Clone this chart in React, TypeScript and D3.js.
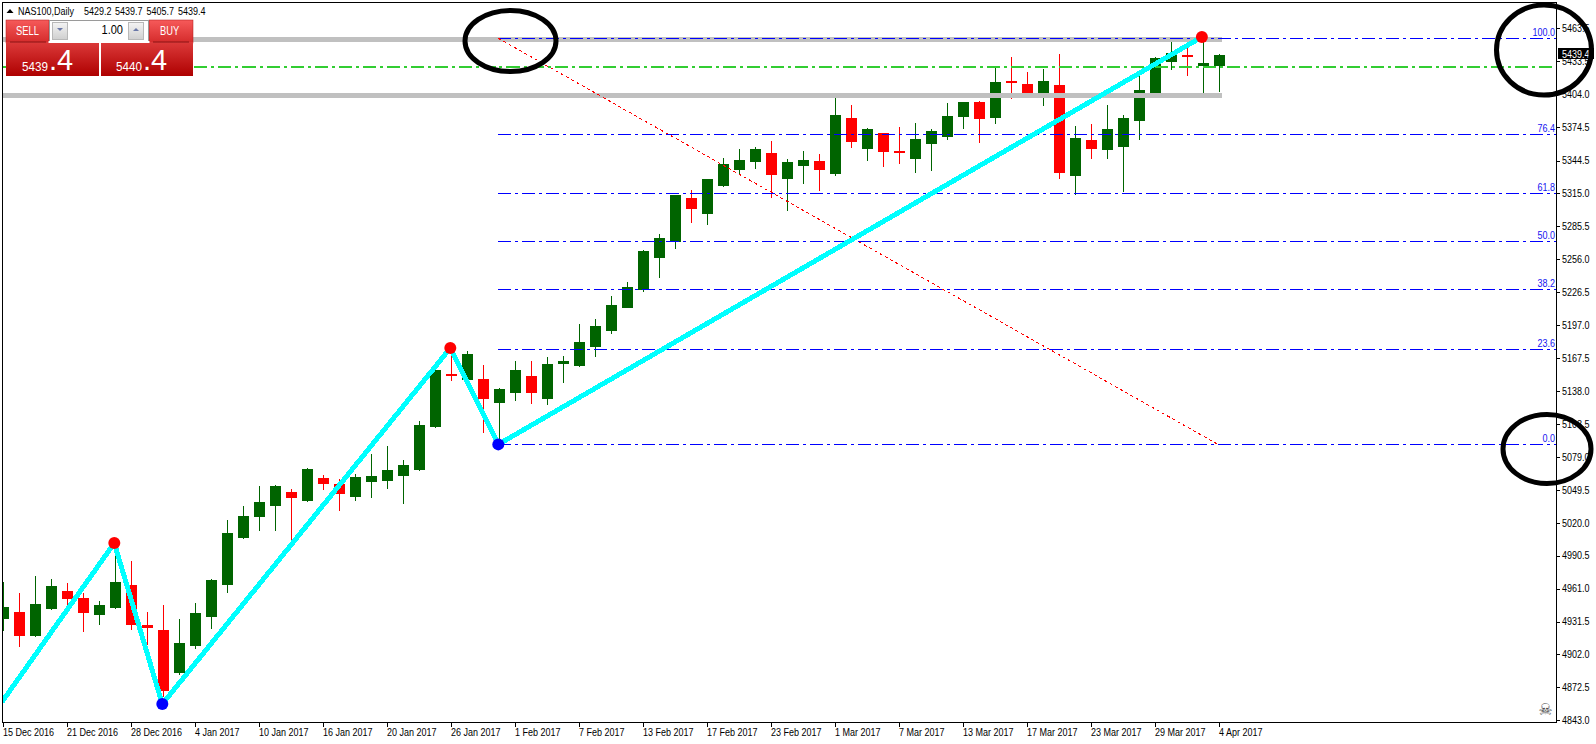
import React from "react";
import * as d3 from "d3";

const W = 1596, H = 744;

const opens = [4934.0,4940.0,4918.5,4942.7,4958.8,4952.5,4937.3,4943.6,4964.2,4928.4,4923.9,4885.4,4909.6,4935.5,4964.2,5006.3,5025.1,5035.0,5047.5,5039.5,5060.1,5054.7,5043.0,5056.5,5057.4,5061.9,5067.2,5105.7,5153.2,5147.9,5148.8,5127.3,5136.2,5151.4,5130.8,5162.2,5160.4,5177.4,5191.8,5212.4,5228.5,5257.2,5271.5,5310.9,5296.6,5321.7,5336.0,5343.2,5351.2,5327.9,5339.6,5344.1,5332.4,5382.6,5354.8,5369.1,5353.0,5345.9,5359.3,5365.6,5383.5,5396.9,5382.6,5415.7,5413.0,5405.0,5412.1,5330.6,5362.9,5353.9,5356.6,5379.9,5405.0,5432.8,5439.0,5429.2,5429.2];
const highs = [4966.9,4957.0,4972.3,4969.6,4966.0,4957.0,4949.9,5001.8,4985.7,4940.0,4946.3,4933.7,4948.1,4969.6,5022.4,5035.0,5052.9,5053.8,5050.2,5069.0,5062.7,5059.2,5063.6,5081.6,5088.7,5076.2,5111.1,5156.8,5176.5,5173.8,5161.3,5140.7,5164.9,5164.9,5168.5,5169.4,5198.0,5202.5,5223.1,5235.7,5264.3,5278.7,5313.6,5318.1,5327.9,5346.7,5354.8,5356.6,5362.0,5345.9,5353.0,5350.3,5400.5,5394.2,5373.6,5369.1,5374.5,5378.1,5372.7,5396.0,5396.9,5397.8,5429.2,5437.2,5423.8,5426.5,5439.9,5375.4,5377.2,5394.2,5385.3,5424.7,5437.2,5450.7,5451.6,5456.9,5439.7];
const lows = [4923.3,4908.7,4917.6,4941.8,4944.5,4922.1,4928.4,4942.7,4923.9,4910.4,4863.9,4883.6,4906.9,4924.8,4957.0,5005.4,5012.6,5012.6,5001.8,5038.6,5049.3,5030.5,5039.5,5042.1,5050.2,5036.8,5066.3,5104.9,5147.0,5147.9,5100.4,5091.4,5129.0,5126.4,5125.5,5145.2,5159.5,5168.5,5189.1,5212.4,5226.7,5239.2,5265.2,5288.5,5286.7,5320.8,5331.5,5336.9,5310.9,5299.3,5323.5,5317.2,5330.6,5355.7,5344.1,5338.7,5341.4,5333.3,5335.1,5362.9,5372.7,5360.2,5377.2,5399.6,5401.4,5393.3,5327.9,5313.6,5345.9,5345.9,5316.3,5362.9,5405.0,5425.6,5420.2,5405.0,5405.7];
const closes = [4944.5,4918.5,4947.2,4963.3,4951.7,4939.1,4946.3,4966.9,4928.4,4925.7,4869.2,4912.2,4939.1,4968.7,5010.8,5026.0,5038.6,5052.9,5042.1,5068.1,5054.7,5045.7,5061.0,5061.9,5067.2,5071.7,5107.5,5156.8,5152.3,5171.2,5130.8,5139.8,5156.8,5136.2,5162.2,5164.9,5181.9,5196.2,5215.1,5231.2,5263.4,5275.1,5313.6,5301.1,5327.9,5341.4,5345.0,5354.8,5331.5,5343.2,5345.0,5336.0,5385.3,5361.1,5372.7,5352.1,5351.2,5363.8,5370.9,5384.4,5396.9,5381.7,5414.8,5413.9,5404.1,5415.7,5333.3,5364.7,5354.8,5372.7,5382.6,5407.7,5436.3,5440.8,5437.2,5431.9,5439.4];

const priceTicks = ["4843.0","4872.5","4902.0","4931.5","4961.0","4990.5","5020.0","5049.5","5079.0","5108.5","5138.0","5167.5","5197.0","5226.5","5256.0","5285.5","5315.0","5344.5","5374.5","5404.0","5433.5","5463.5"];
const dateTicks = ["15 Dec 2016","21 Dec 2016","28 Dec 2016","4 Jan 2017","10 Jan 2017","16 Jan 2017","20 Jan 2017","26 Jan 2017","1 Feb 2017","7 Feb 2017","13 Feb 2017","17 Feb 2017","23 Feb 2017","1 Mar 2017","7 Mar 2017","13 Mar 2017","17 Mar 2017","23 Mar 2017","29 Mar 2017","4 Apr 2017"];

const zigzagIndex = [-0.1, 6.925, 9.925, 27.925, 30.925, 74.9];
const zigzagPrice = [4859.4, 5001.8, 4857.6, 5176.5, 5090.2, 5455.2];
const pivotKinds = ["", "high", "low", "high", "low", "high"];

const fibLow = 5090.2, fibHigh = 5454.0;
const fibLevels = [0, 23.6, 38.2, 50.0, 61.8, 76.4, 100.0];
const grayLevels = [5453.8, 5402.8];
const bidLevel = 5428.6;
const lastPrice = 5439.4;

const font = "'Liberation Sans', Arial, sans-serif";

const x = d3.scaleLinear().domain([0, 76]).range([3.5, 1219.5]);
const y = d3.scaleLinear().domain([4843, 5463.5]).range([720.3, 27.7]);

const PL = 2.5, PR = 1556.5, PT = 2.5, PB = 722.5;

function T({ x: tx, y: ty, sx = 0.9, size = 10, fill = "#000", anchor = "start", weight = "normal", children }: any) {
  return (
    <text transform={`translate(${tx},${ty}) scale(${sx},1)`} fontFamily={font} fontSize={size} fill={fill} textAnchor={anchor} fontWeight={weight}>
      {children}
    </text>
  );
}

export default function App() {
  const zig = d3.line<number>().x((_, i) => x(zigzagIndex[i])).y((d) => y(d))(zigzagPrice) as string;
  const fibY = (l: number) => Math.round(y(fibLow + ((fibHigh - fibLow) * l) / 100)) + 0.5;
  return (
    <svg width={W} height={H} viewBox={`0 0 ${W} ${H}`} style={{ position: "fixed", left: 0, top: 0, display: "block", background: "#fff" }}>
      <defs>
        <linearGradient id="small" x1="0" x2="0" y1="0" y2="1">
          <stop offset="0" stopColor="#f65a5a" />
          <stop offset="1" stopColor="#d42a2a" />
        </linearGradient>
        <linearGradient id="big" x1="0" x2="0" y1="0" y2="1">
          <stop offset="0" stopColor="#dc3a3a" />
          <stop offset="1" stopColor="#ae0000" />
        </linearGradient>
        <linearGradient id="spin" x1="0" x2="0" y1="0" y2="1">
          <stop offset="0" stopColor="#f4f4f4" />
          <stop offset="1" stopColor="#cfcfcf" />
        </linearGradient>
        <clipPath id="plot"><rect x={PL} y={PT} width={PR - PL} height={PB - PT} /></clipPath>
      </defs>

      <g clipPath="url(#plot)">
        <g shapeRendering="crispEdges">
          {opens.map((o, i) => {
            const c = closes[i];
            const col = c >= o ? "#006400" : "#ff0000";
            const cx = Math.floor(x(i));
            const top = Math.round(y(Math.max(o, c)));
            const bot = Math.round(y(Math.min(o, c)));
            return (
              <g key={i}>
                <rect x={cx} y={Math.round(y(highs[i]))} width={1} height={Math.max(1, Math.round(y(lows[i])) - Math.round(y(highs[i])))} fill={col} />
                <rect x={cx - 5} y={top} width={11} height={Math.max(2, bot - top)} fill={col} />
              </g>
            );
          })}
          {grayLevels.map((g) => (
            <rect key={g} x={PL} y={Math.round(y(g)) - 2.5} width={1222 - PL} height={5} fill="#c0c0c0" />
          ))}
          <line x1={PL} x2={PR} y1={Math.round(y(bidLevel))} y2={Math.round(y(bidLevel))} stroke="#32cd32" strokeWidth={2} strokeDasharray="13 4 3 4" />
          {fibLevels.map((l) => (
            <line key={l} x1={x(30.925)} x2={PR} y1={fibY(l)} y2={fibY(l)} stroke="#0000ff" strokeWidth={1} strokeDasharray="13 4 3 4" />
          ))}
          <line x1={x(30.925)} y1={y(fibHigh)} x2={x(75.9)} y2={y(fibLow)} stroke="#ff0000" strokeWidth={1} strokeDasharray="3 3" />
          <path d={zig} fill="none" stroke="#00ffff" strokeWidth={5} />
        </g>
        {zigzagPrice.map((p, i) =>
          pivotKinds[i] ? (
            <circle key={i} cx={x(zigzagIndex[i])} cy={y(p)} r={6} fill={pivotKinds[i] === "high" ? "#ff0000" : "#0000ff"} />
          ) : null
        )}
        {fibLevels.map((l) => (
          <T key={l} x={1555} y={fibY(l) - 2.5} anchor="end" fill="#1414f0" size={10} sx={0.9}>{l.toFixed(1)}</T>
        ))}
        <text x={1545.5} y={715} textAnchor="middle" fontFamily="'DejaVu Sans'" fontSize={16} fill="#444">☠</text>
      </g>

      <rect x={PL} y={PT} width={PR - PL} height={PB - PT} fill="none" stroke="#000" strokeWidth={1} shapeRendering="crispEdges" />

      {priceTicks.map((t) => (
        <g key={t}>
          <line x1={PR} x2={PR + 3} y1={Math.round(y(+t)) + 0.5} y2={Math.round(y(+t)) + 0.5} stroke="#000" shapeRendering="crispEdges" />
          <T x={1562} y={y(+t) + 3.8}>{t}</T>
        </g>
      ))}
      {dateTicks.map((t, i) => (
        <g key={t}>
          <line x1={Math.floor(x(i * 4)) + 0.5} x2={Math.floor(x(i * 4)) + 0.5} y1={PB} y2={PB + 4} stroke="#000" shapeRendering="crispEdges" />
          <T x={Math.floor(x(i * 4))} y={735.5}>{t}</T>
        </g>
      ))}

      <rect x={1558} y={48} width={36} height={11} fill="#000" />
      <T x={1562} y={y(lastPrice) + 3.5} fill="#fff">{lastPrice.toFixed(1)}</T>

      <g fill="none" stroke="#000">
        <ellipse cx={510.5} cy={41} rx={45.5} ry={30.5} strokeWidth={5} />
        <ellipse cx={1544} cy={50} rx={47.5} ry={45} strokeWidth={5} />
        <ellipse cx={1547} cy={449} rx={44} ry={34.5} strokeWidth={5} />
      </g>

      {/* header */}
      <path d="M6.5 13 L13.5 13 L10 9 Z" fill="#000" />
      <T x={18} y={14.5}>NAS100,Daily</T>
      <T x={84} y={14.5}>5429.2</T>
      <T x={115} y={14.5}>5439.7</T>
      <T x={146.5} y={14.5}>5405.7</T>
      <T x={178} y={14.5}>5439.4</T>

      {/* trade panel */}
      <g>
        <rect x={6} y={20} width={187} height={56} fill="#fff" />
        <rect x={6} y={20} width={43} height={23} fill="url(#small)" stroke="#b01818" strokeWidth={0.5} />
        <rect x={149} y={20} width={44} height={23} fill="url(#small)" stroke="#b01818" strokeWidth={0.5} />
        <rect x={6} y={42} width={93} height={34} fill="url(#big)" />
        <rect x={101} y={42} width={92} height={34} fill="url(#big)" />
        <rect x={10} y={41.5} width={36} height={1} fill="#8a1414" />
        <rect x={153} y={41.5} width={36} height={1} fill="#8a1414" />
        <rect x={49.5} y={20.5} width={99} height={21} fill="#fff" stroke="#9a9a9a" />
        <rect x={48.5} y={41} width={101} height={2} fill="#fff" />
        <rect x={52.5} y={22.5} width={15} height={17} fill="url(#spin)" stroke="#b8b8b8" />
        <rect x={128.5} y={22.5} width={15} height={17} fill="url(#spin)" stroke="#b8b8b8" />
        <path d="M57 28 L63 28 L60 31 Z" fill="#6a78a8" />
        <path d="M133 31 L139 31 L136 28 Z" fill="#6a78a8" />
        <T x={123} y={34} anchor="end" size={13} sx={0.85}>1.00</T>
        <T x={16} y={35} size={13} sx={0.72} fill="#fff">SELL</T>
        <T x={160} y={35} size={13} sx={0.72} fill="#fff">BUY</T>
        <T x={22} y={70.5} size={13} sx={0.9} fill="#fff">5439</T>
        <T x={49} y={70} size={29} sx={1} fill="#fff">.4</T>
        <T x={116} y={70.5} size={13} sx={0.9} fill="#fff">5440</T>
        <T x={143} y={70} size={29} sx={1} fill="#fff">.4</T>
      </g>
    </svg>
  );
}
